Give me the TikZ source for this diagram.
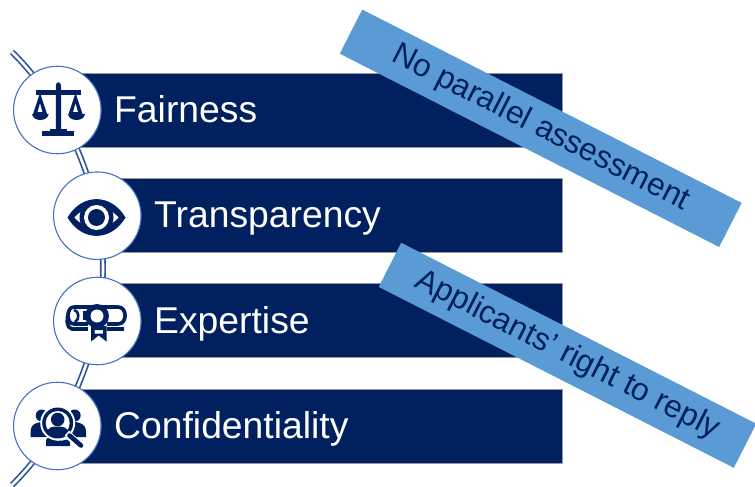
\documentclass[tikz,border=0pt]{standalone}
\usepackage{fontspec}
\setmainfont{Liberation Sans}
\definecolor{navy}{HTML}{002060}
\definecolor{bannerblue}{HTML}{5B9BD5}
\definecolor{ringblue}{HTML}{4472C4}
\definecolor{linkblue}{HTML}{2F5597}
\tikzset{
  barbox/.style={rectangle,draw=gray!80,line width=0.7pt,fill=navy,minimum height=74pt,inner sep=0pt,anchor=west},
  barlabel/.style={anchor=base west,inner sep=0pt,text=white,font=\fontsize{37.3}{44}\selectfont},
  ringnode/.style={circle,draw=ringblue,line width=1.1pt,fill=white,minimum size=87.5pt,inner sep=0pt},
  banner/.style={rectangle,fill=bannerblue,rotate=-27,inner sep=0pt,minimum height=49.5pt,text=navy,font=\fontsize{31.7}{38}\selectfont},
  link/.style={draw=linkblue,line width=7pt},
  linkcore/.style={draw=white,line width=2.6pt}
}
\begin{document}
\begin{tikzpicture}[x=1pt,y=-1pt]
\useasboundingbox (0,0) rectangle (755,487);
% bars
\node[barbox,minimum width=505pt] (bar1) at (57,110) {};
\node[barbox,minimum width=465pt] (bar2) at (97,215.5) {};
\node[barbox,minimum width=465pt] (bar3) at (97,320.5) {};
\node[barbox,minimum width=505pt] (bar4) at (57,426.5) {};
% double link
\coordinate (linkA) at (12,52);
\coordinate (linkB) at (103,268.5);
\coordinate (linkC) at (12,485);
\draw[link,line width=6pt] (linkA) .. controls (66,105) and (103,190) .. (linkB)
                    .. controls (103,347) and (66,432) .. (linkC);
\draw[linkcore] (linkA) .. controls (66,105) and (103,190) .. (linkB)
                    .. controls (103,347) and (66,432) .. (linkC);
% circles
\node[ringnode] (c1) at (57.3,110) {};
\node[ringnode] (c2) at (97.3,215.7) {};
\node[ringnode] (c3) at (97.3,321) {};
\node[ringnode] (c4) at (57.3,426) {};
% labels
\node[barlabel] (t1) at (114,122) {Fairness};
\node[barlabel] (t2) at (154,227.5) {Transparency};
\node[barlabel] (t3) at (154,333) {Expertise};
\node[barlabel] (t4) at (114,438.5) {Confidentiality};
% scales icon
\fill[navy] (36,90.3) rectangle (81,94.5);
\fill[navy] (55.8,86) .. controls (55.8,81) and (61,81) .. (61,86) -- (61,130) -- (55.8,130) -- cycle;
\fill[navy] (50,128.5) rectangle (66.5,132);
\fill[navy] (42.3,131) rectangle (74.3,136);
\fill[navy,even odd rule] (40,93) -- (33,114) -- (47,114) -- cycle (40,103) -- (37.5,112) -- (42.5,112) -- cycle;
\fill[navy,even odd rule] (75.5,93) -- (68.5,114) -- (82.5,114) -- cycle (75.5,103) -- (73,112) -- (78,112) -- cycle;
\fill[navy] (32,114) .. controls (33,122) and (47.5,122) .. (48.7,114) -- cycle;
\fill[navy] (68,114) .. controls (69,122) and (84,122) .. (85,114) -- cycle;
% eye icon
\fill[navy] (67.5,217.5) .. controls (82,193) and (111,193) .. (125.5,217.5)
            .. controls (111,242) and (82,242) .. (67.5,217.5) -- cycle;
\fill[white] (74.5,217.5) .. controls (86,204) and (107,204) .. (118.5,217.5)
            .. controls (107,231) and (86,231) .. (74.5,217.5) -- cycle;
\fill[navy] (96.5,217.5) circle[radius=17];
\fill[white] (96.5,217.5) circle[radius=12.5];
\fill[navy] (96.5,217.5) circle[radius=8.5];
% diploma icon
\draw[navy,line width=3.6pt,fill=white] (74,307) -- (118,307) .. controls (127.5,307) and (127.5,324) .. (118,324) -- (74,324)
  .. controls (66,324) and (66,307) .. (74,307) -- cycle;
\draw[navy,line width=3.6pt] (76,329) -- (72,329) .. controls (66,328) and (66.5,318) .. (68.5,313)
   (72,329) -- (124,329);
\fill[white] (71.5,311) rectangle (80,321);
\draw[navy,line width=2.6pt] (74,310) .. controls (79,310) and (80,320) .. (75,322);
\fill[navy] (83,311) rectangle (87,320);
\fill[white] (88,323) rectangle (107,331);
\fill[navy,even odd rule] (91,326) -- (106.5,326) -- (106.5,341.5) -- (98.7,335.5) -- (91,341.5) -- cycle
  (94.5,330) -- (103,330) -- (103,333.5) -- (94.5,333.5) -- cycle;
\fill[navy] (97,316) circle[radius=12];
\fill[white] (97,316) circle[radius=6.5];
% people icon
\fill[navy] (41.7,415.5) circle[radius=6];
\fill[navy] (74.7,415.5) circle[radius=6];
\fill[navy] (30.7,437) -- (30.7,431) .. controls (31,424) and (36,423) .. (41,422) -- (50,422) -- (50,437) -- cycle;
\fill[navy] (86,437) -- (86,431) .. controls (85.5,424) and (80,423) .. (76,422) -- (66,422) -- (66,437) -- cycle;
\fill[white] (57.7,423) circle[radius=17.5];
\fill[navy] (57.7,423) circle[radius=15.5];
\fill[white] (57.7,423) circle[radius=12];
\fill[navy] (57.7,419.5) circle[radius=6.8];
\fill[navy] (47,433) .. controls (48,427) and (52,426.5) .. (57.7,426.5) .. controls (63,426.5) and (67.5,427) .. (68.5,433)
  .. controls (62,437) and (53,437) .. (47,433) -- cycle;
\fill[navy] (46,441) .. controls (46,439) and (47,438) .. (48,438) .. controls (54,441.5) and (61,441.5) .. (67,439.5) -- (70,442) -- (70,446) -- (46,446) -- cycle;
\draw[white,line width=6.5pt] (67,433) -- (81,446);
\draw[navy,line width=4.6pt,line cap=round] (69.5,435.5) -- (81,445.5);
% banners
\node[banner,minimum width=425.8pt] (b1) at (540.7,128.3) {No parallel assessment};
\node[banner,minimum width=398.5pt] (b2) at (567.5,355.3) {Applicants’ right to reply};
\end{tikzpicture}
\end{document}
